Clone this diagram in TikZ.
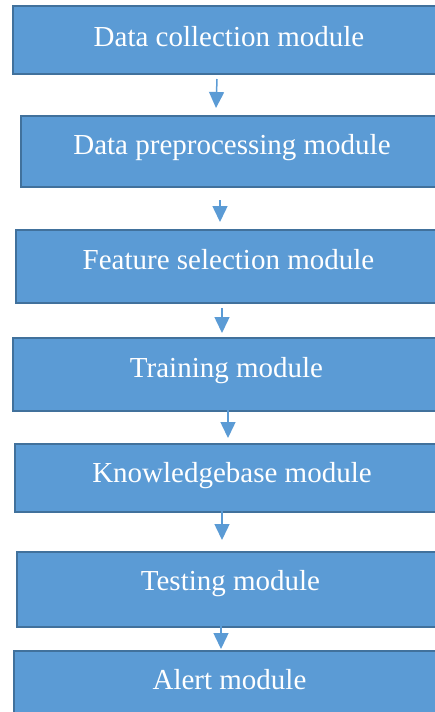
\documentclass[tikz,border=0pt]{standalone}
\usepackage{fontspec}
\setmainfont{Liberation Serif}
\usetikzlibrary{arrows.meta,calc}
\definecolor{boxfill}{HTML}{5B9BD5}
\definecolor{boxline}{HTML}{41719C}
\definecolor{arrowcol}{HTML}{5B9BD5}
\tikzset{
  modbox/.style={draw=boxline, fill=boxfill, line width=2pt, rectangle,
    anchor=north west, inner sep=0pt, text=white, text height=20pt,
    font=\fontsize{29}{34}\selectfont},
  arr/.style={draw=arrowcol, line width=1.5pt,
    -{Triangle[length=16pt,width=15pt]}}
}
\begin{document}
\begin{tikzpicture}[x=1pt,y=-1pt]
\useasboundingbox (0,0) rectangle (435,712);
\clip (0,0) rectangle (435,712);
\node[modbox, minimum width=432pt, minimum height=68pt, text depth=8pt] (b1) at (12,5) {Data collection module};
\node[modbox, minimum width=422pt, minimum height=71pt, text depth=15pt] (b2) at (20,115) {Data preprocessing module};
\node[modbox, minimum width=425pt, minimum height=73pt, text depth=15pt] (b3) at (15,229) {Feature selection module};
\node[modbox, minimum width=427pt, minimum height=73pt, text depth=15pt] (b4) at (12,337) {Training module};
\node[modbox, minimum width=434pt, minimum height=68pt, text depth=12pt] (b5) at (14,443) {Knowledgebase module};
\node[modbox, minimum width=427pt, minimum height=75pt, text depth=18pt] (b6) at (16,551) {Testing module};
\node[modbox, minimum width=431pt, minimum height=80pt, text depth=24pt] (b7) at (13,650) {Alert module};
\draw[arr] ($(b1.south west)+(205,4)$) -- ($(b2.north west)+(196,-7)$);
\draw[arr] ($(b2.south west)+(200,12)$) -- ($(b3.north west)+(205,-7)$);
\draw[arr] ($(b3.south west)+(207,4)$) -- ($(b4.north west)+(210,-4)$);
\draw[arr] ($(b4.south west)+(216,-2)$) -- ($(b5.north west)+(214,-5)$);
\draw[arr] ($(b5.south west)+(208,-2)$) -- ($(b6.north west)+(206,-11)$);
\draw[arr] ($(b6.south west)+(205,-2)$) -- ($(b7.north west)+(208,-1)$);
\end{tikzpicture}
\end{document}
